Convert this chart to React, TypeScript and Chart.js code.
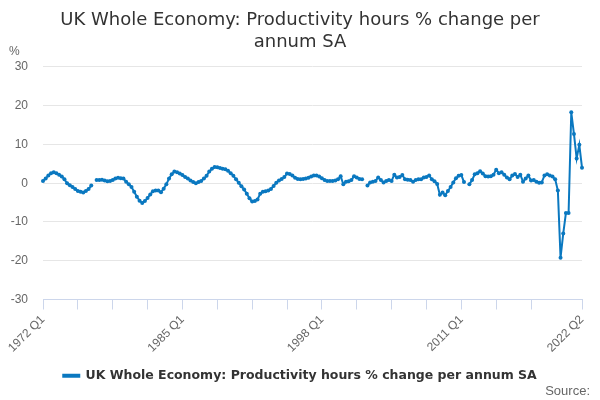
import React, { useEffect, useRef } from "react";
import { Chart, registerables } from "chart.js";

Chart.register(...registerables);

const startYear = 1972;
const quarterCount = 202;
const labelledQuarters = [0, 52, 104, 156, 201];
const tickEvery = 13;
const lastStepTick = 182;
const yMin = -30;
const yMax = 30;
const yStep = 10;

// % change per annum, 1972 Q1 .. 2022 Q2 (null = gap in the series)
const productivity: (number | null)[] = [
  0.6, 1.2, 2.0, 2.6, 2.8, 2.6, 2.2, 1.7, 1.0, 0.0, -0.5, -1.0, -1.5, -2.0, -2.2, -2.4, -2.0, -1.5, -0.6, null,
  0.8, 0.8, 0.9, 0.7, 0.5, 0.6, 0.8, 1.2, 1.4, 1.3, 1.2, 0.4, -0.3, -1.0, -2.2, -3.5, -4.5, -5.1, -4.6, -3.8,
  -2.9, -2.1, -1.9, -1.9, -2.3, -1.4, -0.3, 1.2, 2.3, 3.0, 2.8, 2.5, 2.1, 1.6, 1.2, 0.7, 0.3, 0.0, 0.3, 0.6,
  1.2, 1.9, 3.0, 3.7, 4.2, 4.1, 3.9, 3.7, 3.6, 3.2, 2.6, 1.9, 1.0, 0.1, -0.8, -1.6, -2.7, -3.9, -4.7, -4.6,
  -4.2, -2.7, -2.2, -2.1, -1.9, -1.5, -0.7, 0.1, 0.7, 1.1, 1.6, 2.5, 2.4, 2.0, 1.4, 1.1, 1.0, 1.1, 1.2, 1.4,
  1.7, 2.0, 2.0, 1.7, 1.3, 0.8, 0.6, 0.6, 0.6, 0.7, 1.0, 1.8, -0.3, 0.4, 0.5, 0.8, 1.8, 1.5, 1.1, 1.0,
  null, -0.6, 0.2, 0.4, 0.6, 1.5, 0.8, 0.2, 0.6, 0.8, 0.6, 2.2, 1.5, 1.6, 2.1, 1.0, 0.9, 0.8, 0.4, 0.8,
  1.0, 1.0, 1.5, 1.6, 2.0, 1.0, 0.5, -0.2, -3.0, -2.4, -3.1, -2.0, -1.0, 0.2, 1.3, 1.9, 2.1, 0.3, null, -0.3,
  0.8, 2.3, 2.6, 3.1, 2.5, 1.8, 1.7, 1.8, 2.2, 3.5, 2.6, 2.8, 2.2, 1.5, 1.0, 2.0, 2.4, 1.6, 2.2, 0.4,
  1.2, 2.0, 0.7, 0.8, 0.4, 0.1, 0.2, 2.0, 2.3, 2.0, 1.7, 1.0, -1.9, -19.2, -13.0, -7.7, -7.7, 18.3, 12.7, 6.4,
  9.9, 4.0,
];

const quarters: string[] = [];
for (let i = 0; i < quarterCount; i++) {
  quarters.push(`${startYear + Math.floor(i / 4)} Q${(i % 4) + 1}`);
}

const lineColor = "#0a78c0";
const axisColor = "#ccd6eb";
const gridColor = "#e6e6e6";
const labelColor = "#666666";
const font = "'Liberation Sans', Arial, sans-serif";
const headFont = "'DejaVu Sans', sans-serif";

const hasTick = (i: number) => (i % tickEvery === 0 && i <= lastStepTick) || i === quarterCount - 1;

// "%" unit above the y axis and the empty "Source:" credit
const extraText = {
  id: "extraText",
  afterDraw(chart: any) {
    const { ctx, chartArea } = chart;
    ctx.save();
    ctx.fillStyle = labelColor;
    ctx.textBaseline = "middle";
    ctx.font = `12px ${font}`;
    ctx.textAlign = "left";
    ctx.fillText("%", 9, chartArea.top - 15);
    ctx.font = `13px ${font}`;
    ctx.textAlign = "right";
    ctx.fillText("Source:", chart.width - 10, chart.height - 9);
    ctx.restore();
  },
};

const App = () => {
  const canvasRef = useRef<HTMLCanvasElement | null>(null);

  useEffect(() => {
    const ctx = canvasRef.current?.getContext("2d");
    if (!ctx) return;

    const chart = new Chart(ctx, {
      type: "line",
      data: {
        labels: quarters,
        datasets: [
          {
            label: "UK Whole Economy: Productivity hours % change per annum SA",
            data: productivity,
            borderColor: lineColor,
            backgroundColor: lineColor,
            borderWidth: 2,
            pointRadius: 2,
            pointBorderWidth: 0,
            pointBackgroundColor: lineColor,
            spanGaps: false,
            tension: 0,
          },
        ],
      },
      options: {
        responsive: false,
        animation: false,
        layout: { padding: { left: 0, right: 0, top: 0, bottom: 8 } },
        plugins: {
          title: {
            display: true,
            text: ["UK Whole Economy: Productivity hours % change per", "annum SA"],
            color: "#333333",
            font: { family: headFont, size: 18, weight: "normal", lineHeight: 1.22 },
            padding: { top: 9, bottom: 14 },
          },
          legend: {
            position: "bottom",
            labels: {
              color: "#333333",
              font: { family: headFont, size: 12.5, weight: "bold" },
              boxWidth: 16,
              boxHeight: 2,
              padding: 10,
            },
          },
          tooltip: { enabled: false },
        },
        scales: {
          x: {
            type: "category",
            offset: false,
            border: { display: true, color: axisColor, width: 1 },
            grid: {
              display: true,
              drawOnChartArea: false,
              drawTicks: true,
              tickLength: 10,
              offset: false,
              color: (c: any) => (hasTick(c.index) ? axisColor : "rgba(0,0,0,0)"),
              tickColor: (c: any) => (hasTick(c.index) ? axisColor : "rgba(0,0,0,0)"),
            },
            ticks: {
              autoSkip: false,
              maxRotation: 45,
              minRotation: 45,
              padding: 3,
              color: labelColor,
              font: { family: font, size: 12 },
              callback: (_v: any, i: number) => (labelledQuarters.includes(i) ? quarters[i] : ""),
            },
            afterFit: (scale: any) => {
              scale.height = 60;
            },
          },
          y: {
            min: yMin,
            max: yMax,
            border: { display: false },
            grid: {
              drawTicks: false,
              color: (c: any) => (c.tick && c.tick.value === yMin ? "rgba(0,0,0,0)" : gridColor),
            },
            ticks: {
              stepSize: yStep,
              padding: 15,
              color: labelColor,
              font: { family: font, size: 12 },
            },
            afterFit: (scale: any) => {
              scale.width = 43;
            },
          },
          // empty right-hand margin so title and legend stay centred on the page
          yRight: {
            position: "right",
            display: true,
            border: { display: false },
            grid: { display: false },
            ticks: { display: false },
            afterFit: (scale: any) => {
              scale.width = 18;
            },
          },
        },
      },
      plugins: [extraText],
    });

    return () => {
      chart.destroy();
    };
  }, []);

  return (
    <div style={{ position: "absolute", left: 0, top: 0, width: 600, height: 400, background: "#ffffff" }}>
      <canvas ref={canvasRef} width={600} height={400} />
    </div>
  );
};

export default App;
